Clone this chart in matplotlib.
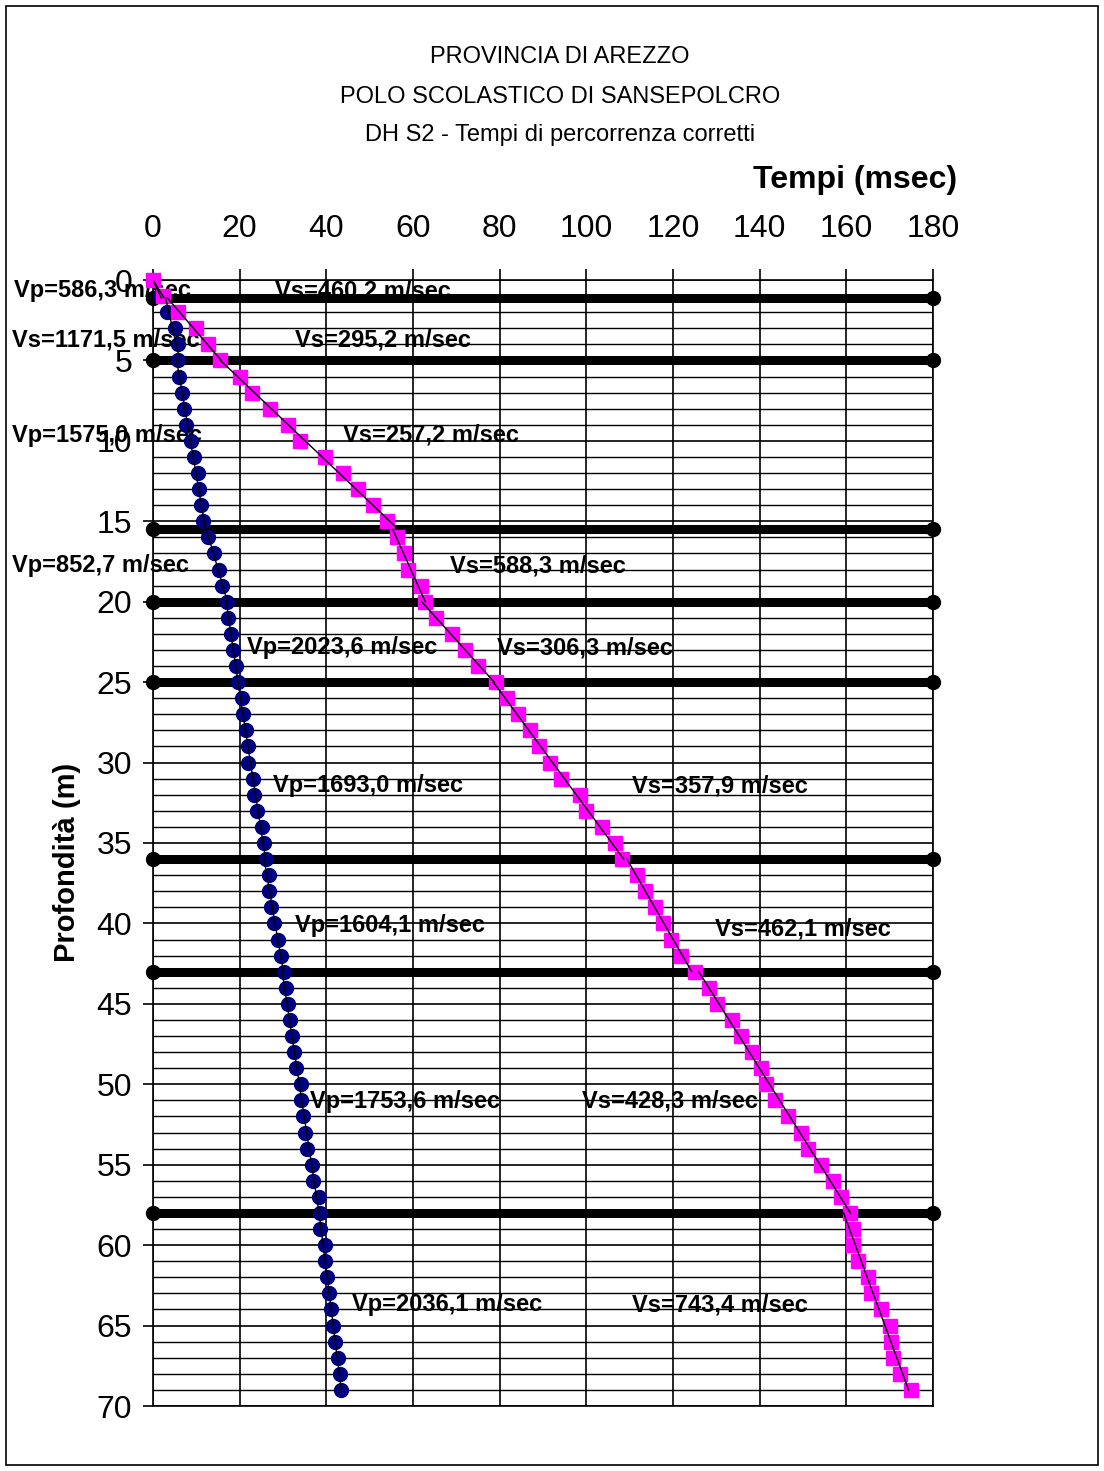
import numpy as np
import matplotlib
matplotlib.use('Agg')
import matplotlib.pyplot as plt
from matplotlib.patches import Rectangle

plt.rcParams['font.family'] = ['Liberation Sans', 'DejaVu Sans']

# profondità (m) e tempi corretti (msec)
depth = np.arange(0, 70)
t_p = [0, 1.7, 3.2, 5.0, 5.7, 5.8, 6.1, 6.8, 7.2, 7.6,
       8.8, 9.4, 10.3, 10.7, 11.1, 11.5, 12.7, 14.1, 15.2, 16.0,
       17.1, 17.4, 18.1, 18.5, 19.1, 19.6, 20.5, 20.7, 21.5, 22.0,
       22.0, 23.0, 23.4, 24.1, 25.1, 25.5, 26.1, 26.7, 26.7, 27.3,
       27.9, 28.8, 29.6, 30.2, 30.6, 31.1, 31.6, 32.0, 32.5, 32.9,
       34.2, 34.2, 34.7, 35.1, 35.6, 36.6, 37.0, 38.3, 38.6, 38.6,
       39.6, 39.6, 40.1, 40.7, 41.1, 41.5, 42.1, 42.6, 43.1, 43.3]
t_s = [0, 2.3, 5.7, 9.9, 12.8, 15.4, 20.1, 22.9, 27.1, 31.1,
       34.0, 39.6, 43.8, 47.4, 50.8, 53.9, 56.3, 57.9, 58.8, 61.8,
       62.7, 65.4, 68.9, 71.9, 75.0, 79.1, 81.6, 84.3, 87.0, 89.1,
       91.5, 94.1, 98.5, 100.0, 103.5, 106.6, 108.3, 111.8, 113.6, 115.8,
       117.8, 119.6, 121.8, 125.0, 128.2, 130.2, 133.5, 135.6, 138.3, 140.4,
       141.5, 143.5, 146.5, 149.6, 151.2, 154.1, 157.0, 158.8, 160.8, 161.5,
       161.5, 162.7, 165.0, 165.8, 168.1, 170.0, 170.4, 170.8, 172.3, 175.0]

# limiti degli strati
layers = [0, 1.1, 5, 15.5, 20, 25, 36, 43, 58, 69]

vp_labels = ['Vp=586,3 m/sec', 'Vs=1171,5 m/sec', 'Vp=1575,0 m/sec', 'Vp=852,7 m/sec',
             'Vp=2023,6 m/sec', 'Vp=1693,0 m/sec', 'Vp=1604,1 m/sec', 'Vp=1753,6 m/sec',
             'Vp=2036,1 m/sec']
vs_labels = ['Vs=460,2 m/sec', 'Vs=295,2 m/sec', 'Vs=257,2 m/sec', 'Vs=588,3 m/sec',
             'Vs=306,3 m/sec', 'Vs=357,9 m/sec', 'Vs=462,1 m/sec', 'Vs=428,3 m/sec',
             'Vs=743,4 m/sec']
vp_pos = [(-32.1, 0.68), (-32.5, 3.74), (-32.5, 9.65), (-32.5, 17.75), (21.7, 22.85),
          (27.7, 31.45), (32.8, 40.1), (36.2, 51.06), (45.9, 63.7)]
vs_pos = [(28.2, 0.68), (32.8, 3.74), (43.8, 9.65), (68.5, 17.75), (79.4, 22.85),
          (110.5, 31.45), (129.7, 40.35), (99.0, 51.06), (110.5, 63.7)]

W, H = 1104, 1471
fig = plt.figure(figsize=(W / 100, H / 100), dpi=100)
fig.add_artist(Rectangle((6 / W, 6 / H), 1092 / W, 1459 / H, fill=False,
                         lw=1.2, ec='black', transform=fig.transFigure))

ax = fig.add_axes([153 / W, 1 - 1406 / H, 780 / W, 1126 / H])
ax.set_xlim(0, 180)
ax.set_ylim(70, 0)
ax.set_xticks(np.arange(0, 181, 20))
ax.set_yticks(np.arange(0, 71, 5))
ax.set_yticks(np.arange(0, 71, 1), minor=True)
ax.xaxis.tick_top()
ax.grid(True, which='major', color='black', lw=1.2, zorder=0)
ax.grid(True, which='minor', axis='y', color='black', lw=1.0, zorder=0)
ax.tick_params(axis='x', which='major', length=8, width=1.2, pad=18, labelsize=23)
ax.tick_params(axis='y', which='major', length=7, width=1.2, pad=8, labelsize=23)
ax.tick_params(axis='y', which='minor', length=0)
for s in ax.spines.values():
    s.set_linewidth(1.2)

# etichette velocità (sotto le linee di strato)
for txt, (x, y) in zip(vp_labels, vp_pos):
    ax.text(x, y, txt, fontsize=17, fontweight='bold', ha='left', va='center',
            zorder=2, clip_on=False)
for txt, (x, y) in zip(vs_labels, vs_pos):
    ax.text(x, y, txt, fontsize=17, fontweight='bold', ha='left', va='center',
            zorder=2, clip_on=False)

# linee di strato
for d in layers[1:-1]:
    ax.plot([0, 180], [d, d], color='black', lw=6.5, marker='o', ms=10,
            solid_capstyle='butt', zorder=3, clip_on=False)

# punti misurati
ax.plot(t_p, depth, ls='none', marker='o', ms=10, color='#000080', zorder=4, clip_on=False)
ax.plot(t_s, depth, ls='none', marker='s', ms=10, color='#FF00FF', zorder=4, clip_on=False)

# rette di regressione per strato
tp = np.array(t_p)
ts = np.array(t_s)
for top, bot in zip(layers[:-1], layers[1:]):
    sel = (depth >= top - 0.01) & (depth <= bot + 0.01)
    if top > 0:
        sel &= depth > top
    yy = np.array([top, bot])
    for arr in (tp, ts):
        k, q = np.polyfit(depth[sel], arr[sel], 1)
        ax.plot(k * yy + q, yy, color='black', lw=1.0, zorder=5)

fig.text(560 / W, 1 - 57 / H, 'PROVINCIA DI AREZZO', ha='center', va='center', fontsize=17)
fig.text(560 / W, 1 - 97 / H, 'POLO SCOLASTICO DI SANSEPOLCRO', ha='center', va='center', fontsize=17)
fig.text(560 / W, 1 - 135 / H, 'DH S2 - Tempi di percorrenza corretti', ha='center', va='center', fontsize=17)
fig.text(957 / W, 1 - 180 / H, 'Tempi (msec)', ha='right', va='center', fontsize=23, fontweight='bold')
fig.text(67 / W, 1 - 862 / H, 'Profondità (m)', ha='center', va='center', rotation=90,
         fontsize=21, fontweight='bold')

fig.savefig('out.png', dpi=100)
